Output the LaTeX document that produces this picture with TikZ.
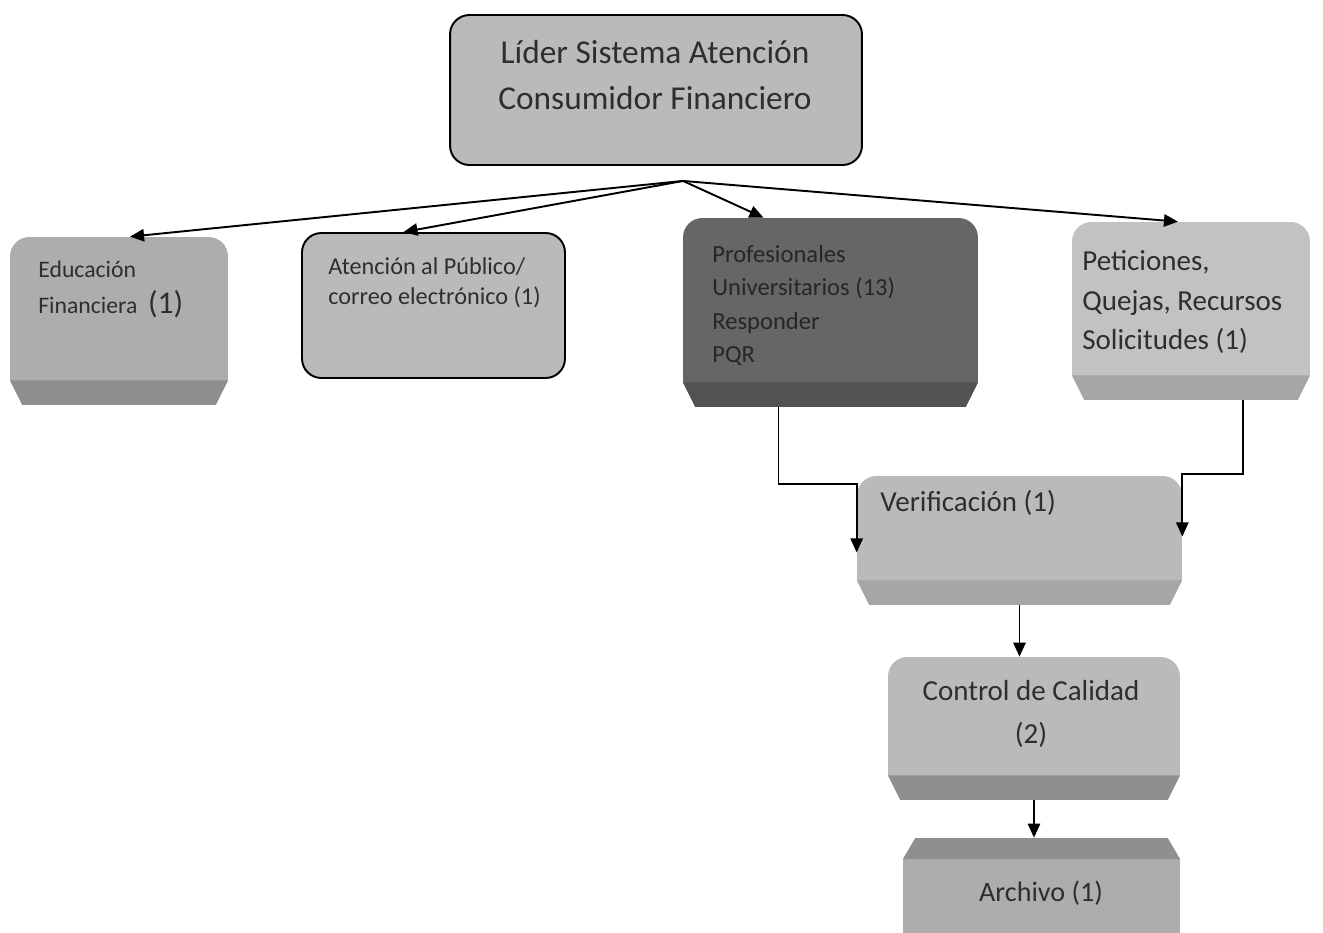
\documentclass[tikz,border=0pt]{standalone}
\usepackage{fontspec}
\setmainfont{Carlito}
\usetikzlibrary{arrows.meta, positioning, calc}

\definecolor{txtgray}{gray}{0.18}
\definecolor{lidergray}{gray}{0.73}
\definecolor{midgray}{gray}{0.68}
\definecolor{midband}{gray}{0.56}
\definecolor{darkbox}{gray}{0.40}
\definecolor{darkband}{gray}{0.32}
\definecolor{lightbox}{gray}{0.76}
\definecolor{lightband}{gray}{0.65}

\begin{document}
\begin{tikzpicture}[x=0.02cm, y=-0.02cm,
  roundbox/.style={draw=black, line width=1.1pt, rounded corners=11pt, fill=lidergray, inner sep=0pt},
  % box with rounded top and a darker chamfered strip at the bottom
  bevel/.style 2 args={inner sep=0pt, path picture={
    \path (path picture bounding box.south west) coordinate (bsw)
          (path picture bounding box.north east) coordinate (bne);
    \fill[#1] let \p1=(bsw), \p2=(bne) in
      (\x1,\y1+14pt) -- (\x1,\y2-11pt) arc[start angle=180,end angle=90,radius=11pt]
      -- (\x2-11pt,\y2) arc[start angle=90,end angle=0,radius=11pt]
      -- (\x2,\y1+14pt) -- (\x2-7pt,\y1) -- (\x1+7pt,\y1) -- cycle;
    \fill[#2] let \p1=(bsw), \p2=(bne) in
      (\x1,\y1+14pt) -- (\x2,\y1+14pt) -- (\x2-7pt,\y1) -- (\x1+7pt,\y1) -- cycle;
  }},
  bevelup/.style 2 args={inner sep=0pt, path picture={
    \path (path picture bounding box.south west) coordinate (bsw)
          (path picture bounding box.north east) coordinate (bne);
    \fill[#1] let \p1=(bsw), \p2=(bne) in
      (\x1+7pt,\y2) -- (\x2-7pt,\y2) -- (\x2,\y2-12pt) -- (\x2,\y1) -- (\x1,\y1) -- (\x1,\y2-12pt) -- cycle;
    \fill[#2] let \p1=(bsw), \p2=(bne) in
      (\x1+7pt,\y2) -- (\x2-7pt,\y2) -- (\x2,\y2-12pt) -- (\x1,\y2-12pt) -- cycle;
  }},
  txt/.style={text=txtgray, inner sep=0pt, align=left, anchor=west},
  arr/.style={-{Triangle[length=8pt,width=7pt]}, line width=1.1pt},
]
\clip (0,0) rectangle (1323,933);
\fill[white] (0,0) rectangle (1323,933);

% boxes
\node[roundbox, minimum width=8.24cm, minimum height=3cm] (lider) at (656,90) {};
\node[bevel={midgray}{midband}, minimum width=4.36cm, minimum height=3.36cm] (educ) at (119,321) {};
\node[roundbox, fill=lidergray, minimum width=5.26cm, minimum height=2.9cm] (aten) at (433.5,305.5) {};
\node[bevel={darkbox}{darkband}, minimum width=5.9cm, minimum height=3.78cm] (pqr) at (830.5,312.5) {};
\node[bevel={lightbox}{lightband}, minimum width=4.76cm, minimum height=3.56cm] (pet) at (1191,311) {};
\node[bevel={lidergray}{lightband}, minimum width=6.5cm, minimum height=2.58cm] (verif) at (1019.5,540.5) {};
\node[bevel={lidergray}{midband}, minimum width=5.84cm, minimum height=2.86cm] (ctrl) at (1034,728.5) {};
\node[bevelup={midgray}{midband}, minimum width=5.54cm, minimum height=2.44cm] (arch) at (1041.5,899) {};

% texts
\node[txt, anchor=center, align=center, font=\fontsize{19}{26}\selectfont] (lider-t) at (655,75)
  {Líder Sistema Atención\\Consumidor Financiero};
\node[txt, font=\fontsize{13.5}{21}\selectfont] (educ-t) at (38,289.5)
  {Educación\\Financiera\ \ {\fontsize{18}{18}\selectfont(1)}};
\node[txt, font=\fontsize{13.8}{17}\selectfont] (aten-t) at (328,283)
  {Atención al Público/\\correo electrónico (1)};
\node[txt, text=black!85, font=\fontsize{14}{19}\selectfont] (pqr-t) at (712,305.5)
  {Profesionales\\Universitarios (13)\\Responder\\PQR};
\node[txt, font=\fontsize{16.5}{22.7}\selectfont] (pet-t) at (1082,302)
  {Peticiones,\\Quejas, Recursos\\Solicitudes (1)};
\node[txt, font=\fontsize{16.5}{18}\selectfont] (verif-t) at (880,503) {Verificación (1)};
\node[txt, anchor=center, align=center, font=\fontsize{16.5}{24}\selectfont] (ctrl-t) at (1031,714)
  {Control de Calidad\\(2)};
\node[txt, anchor=center, font=\fontsize{16}{18}\selectfont] (arch-t) at (1041,893) {Archivo (1)};

% connectors
\coordinate (fan) at ($(lider.south)+(27,15)$);
\foreach \tgt/\dx in {educ/11, aten/-30, pqr/-67, pet/-13}
  \draw[arr] (fan) -- ($(\tgt.north)+(\dx,0)$);
\draw[arr] ($(pqr.south)+(-52,0)$) |- ($(verif.north west)+(0,8)$) -- ($(verif.west)+(0,12)$);
\draw[arr] ($(pet.south)+(52,0)$) |- ($(verif.north east)+(0,-2)$) -- ($(verif.east)+(0,-4)$);
\draw[arr] (verif.south) -- (verif.south |- ctrl.north);
\draw[arr] (ctrl.south) -- (ctrl.south |- arch.north);
\end{tikzpicture}
\end{document}
